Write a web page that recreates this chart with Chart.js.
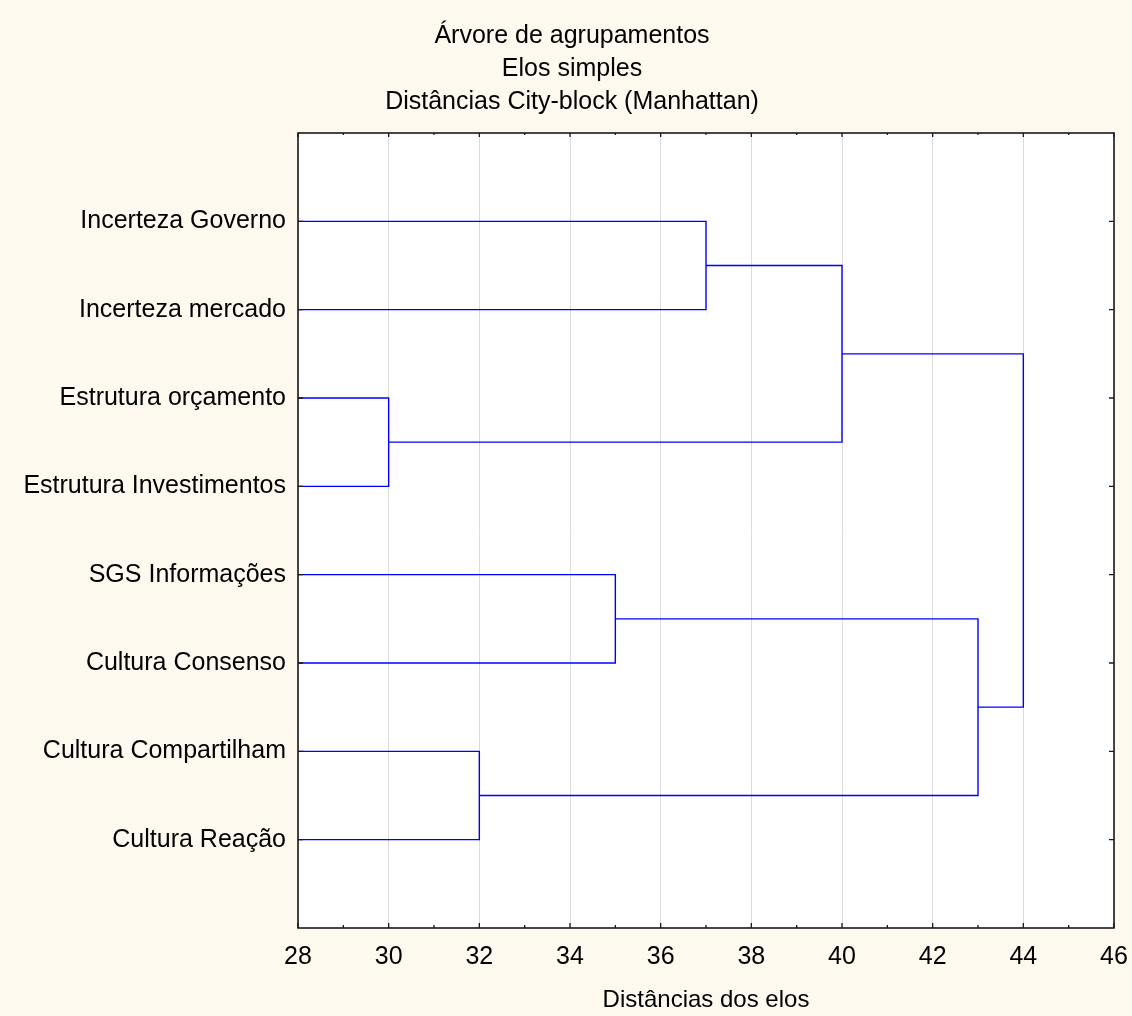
<!DOCTYPE html>
<html>
<head>
<meta charset="utf-8">
<script src="https://cdn.jsdelivr.net/npm/chart.js@4/dist/chart.umd.min.js"></script>
<style>
html,body{margin:0;padding:0;background:#fdf9ef;}
#wrap{width:1132px;height:1016px;position:relative;}
</style>
</head>
<body>
<div id="wrap"><canvas id="c" width="1132" height="1016"></canvas></div>
<script>
// ---- data ----
const titleLines = ['Árvore de agrupamentos', 'Elos simples', 'Distâncias City-block (Manhattan)'];
const xAxisTitle = 'Distâncias dos elos';
const leafLabels = ['Incerteza Governo', 'Incerteza mercado', 'Estrutura orçamento', 'Estrutura Investimentos',
  'SGS Informações', 'Cultura Consenso', 'Cultura Compartilham', 'Cultura Reação'];
// merges: node ids 0..7 are leaves, merge k creates node 8+k
const mergeA = [0, 2, 8, 4, 6, 11, 10];
const mergeB = [1, 3, 9, 5, 7, 12, 13];
const mergeDist = [37, 30, 40, 35, 32, 43, 44];
const xMin = 28, xMax = 46, xStep = 2;

// ---- build segments from linkage ----
const nodeX = [], nodeY = [];
leafLabels.forEach((l, i) => { nodeX.push(xMin); nodeY.push(i + 1); });
const datasets = [];
mergeDist.forEach((d, k) => {
  const a = mergeA[k], b = mergeB[k];
  datasets.push({
    data: [{x: nodeX[a], y: nodeY[a]}, {x: d, y: nodeY[a]}, {x: d, y: nodeY[b]}, {x: nodeX[b], y: nodeY[b]}],
    showLine: true, pointRadius: 0, borderColor: '#0000ff', borderWidth: 1.4, fill: false, tension: 0
  });
  nodeX.push(d); nodeY.push((nodeY[a] + nodeY[b]) / 2);
});

const FONT = "'Liberation Sans', Arial, sans-serif";

const framePlugin = {
  id: 'frame',
  beforeDraw(chart) {
    const ctx = chart.ctx, ca = chart.chartArea;
    ctx.save();
    ctx.fillStyle = '#fdf9ef';
    ctx.fillRect(0, 0, chart.width, chart.height);
    ctx.fillStyle = '#ffffff';
    ctx.fillRect(ca.left, ca.top, ca.right - ca.left, ca.bottom - ca.top);
    ctx.restore();
  },
  afterDraw(chart) {
    const ctx = chart.ctx, ca = chart.chartArea;
    const xs = chart.scales.x, ys = chart.scales.y;
    ctx.save();
    ctx.strokeStyle = '#1a1a1a';
    ctx.lineWidth = 1.6;
    ctx.strokeRect(ca.left, ca.top, ca.right - ca.left, ca.bottom - ca.top);
    ctx.lineWidth = 1.3;
    ctx.beginPath();
    for (let v = xMin; v <= xMax; v += 1) {
      const px = xs.getPixelForValue(v);
      const major = (v - xMin) % xStep === 0;
      const lb = major ? 5 : 3, lt = major ? 4 : 2;
      ctx.moveTo(px, ca.bottom); ctx.lineTo(px, ca.bottom - lb);
      ctx.moveTo(px, ca.top); ctx.lineTo(px, ca.top + lt);
    }
    for (let i = 1; i <= leafLabels.length; i++) {
      const py = ys.getPixelForValue(i);
      ctx.moveTo(ca.left, py); ctx.lineTo(ca.left + 5, py);
      ctx.moveTo(ca.right, py); ctx.lineTo(ca.right - 5, py);
    }
    ctx.stroke();
    // titles
    ctx.fillStyle = '#000';
    ctx.font = '25px ' + FONT;
    ctx.textAlign = 'center';
    ctx.textBaseline = 'middle';
    titleLines.forEach((t, i) => ctx.fillText(t, 572, 36 + i * 33));
    ctx.restore();
  }
};

new Chart(document.getElementById('c'), {
  type: 'scatter',
  data: { datasets },
  plugins: [framePlugin],
  options: {
    responsive: false,
    animation: false,
    layout: { padding: { top: 133, right: 18, left: 0, bottom: 0 } },
    plugins: { legend: { display: false }, tooltip: { enabled: false }, title: { display: false } },
    scales: {
      x: {
        type: 'linear', min: xMin, max: xMax,
        ticks: { stepSize: xStep, color: '#000', font: { family: FONT, size: 25 }, padding: 14, maxRotation: 0 },
        grid: { drawTicks: false, color: '#dcdcdc', lineWidth: 1 },
        border: { display: false },
        title: { display: true, text: xAxisTitle, color: '#000', font: { family: FONT, size: 24 }, padding: { top: 0, bottom: 1 } },
        afterFit(s) { s.height = 88; s.paddingRight = 0; s.paddingLeft = 0; }
      },
      y: {
        type: 'linear', min: 0, max: leafLabels.length + 1, reverse: true,
        ticks: { stepSize: 1, autoSkip: false, color: '#000', font: { family: FONT, size: 25 }, padding: 12,
          callback: (v) => (v >= 1 && v <= leafLabels.length) ? leafLabels[v - 1] : '' },
        grid: { display: false, drawTicks: false },
        border: { display: false },
        afterFit(s) { s.width = 298; s.paddingTop = 0; s.paddingBottom = 0; }
      }
    }
  }
});
</script>
</body>
</html>
